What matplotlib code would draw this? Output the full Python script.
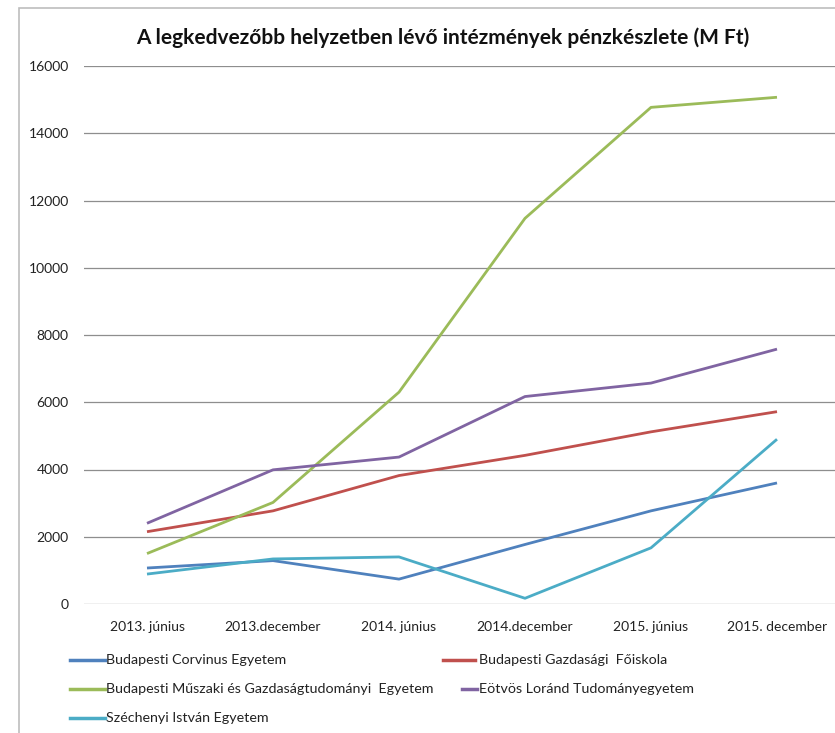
import matplotlib
matplotlib.use('Agg')
import matplotlib.pyplot as plt
from matplotlib.lines import Line2D
from matplotlib.patches import Rectangle

categories = ['2013. június', '2013.december', '2014. június',
              '2014.december', '2015. június', '2015. december']

corvinus = [1070, 1290, 740, 1770, 2770, 3600]
bgf = [2150, 2770, 3820, 4420, 5120, 5720]
bme = [1500, 3020, 6300, 11470, 14770, 15070]
elte = [2400, 3990, 4370, 6170, 6570, 7580]
szechenyi = [890, 1340, 1400, 170, 1670, 4900]

series_names = ['Budapesti Corvinus Egyetem',
                'Budapesti Gazdasági  Főiskola',
                'Budapesti Műszaki és Gazdaságtudományi  Egyetem',
                'Eötvös Loránd Tudományegyetem',
                'Széchenyi István Egyetem']
series_values = [corvinus, bgf, bme, elte, szechenyi]
colors = ['#4F81BD', '#C0504D', '#9BBB59', '#8064A2', '#4BACC6']

yticks = [0, 2000, 4000, 6000, 8000, 10000, 12000, 14000, 16000]

title = 'A legkedvezőbb helyzetben lévő intézmények pénzkészlete (M Ft)'

W, H = 835, 733
plt.rcParams['font.family'] = ['Lato', 'DejaVu Sans']
fig = plt.figure(figsize=(W / 100, H / 100), dpi=100)

def fx(px):
    return px / W

def fy(py):
    return 1 - py / H

# chart frame (cropped Excel chart area)
fig.add_artist(Rectangle((fx(19), fy(760)), 2, fy(8) - fy(760),
                         transform=fig.transFigure, fill=False,
                         edgecolor='#BDBDBD', linewidth=1.2))

ax = fig.add_axes([fx(84), fy(604), fx(840) - fx(84), fy(66) - fy(604)])
x = list(range(len(categories)))
for vals, c, name in zip(series_values, colors, series_names):
    ax.plot(x, vals, color=c, linewidth=2.0, label=name,
            solid_capstyle='butt', zorder=3)

ax.set_xlim(-0.5, len(categories) - 0.5)
ax.set_ylim(0, 16000)
ax.set_yticks(yticks)
ax.set_yticklabels([str(v) for v in yticks], fontsize=10, color='#222222')
ax.set_xticks(x)
ax.set_xticklabels(categories, fontsize=10, color='#222222')
ax.tick_params(axis='y', length=0, pad=11)
ax.tick_params(axis='x', length=0, pad=12)
for s in ax.spines.values():
    s.set_visible(False)
ax.yaxis.grid(True, color='#8E8E8E', linewidth=0.9)
ax.set_axisbelow(True)
ax.patch.set_alpha(0)

fig.text(fx(443), fy(38), title, ha='center', va='center',
         fontsize=15, fontweight='bold', color='#111111')

# legend (manual, Excel layout)
legend_pos = [(70, 105, 106, 660), (443, 475, 479, 660),
              (70, 105, 106, 689), (462, 477, 479, 689),
              (70, 105, 106, 718)]
for (x0, x1, tx, ty), c, name in zip(legend_pos, colors, series_names):
    fig.add_artist(Line2D([fx(x0), fx(x1)], [fy(ty), fy(ty)],
                          transform=fig.transFigure, color=c, linewidth=2.5))
    fig.text(fx(tx), fy(ty), name, ha='left', va='center', fontsize=10.3,
             color='#222222')

fig.savefig('out.png', dpi=100)
